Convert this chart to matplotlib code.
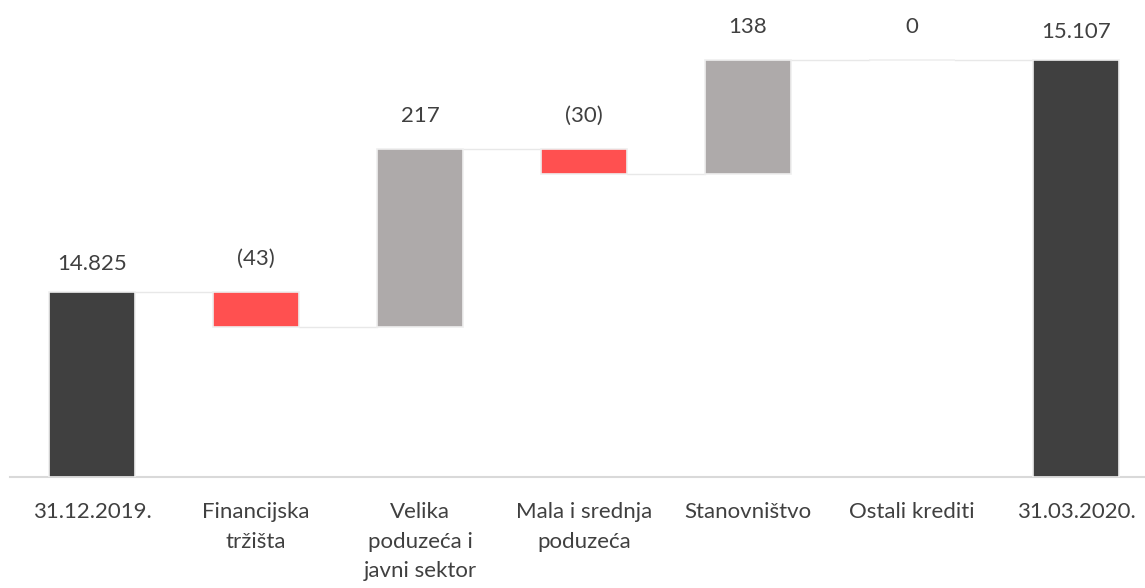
import numpy as np
import matplotlib
matplotlib.use('Agg')
import matplotlib.pyplot as plt

categories = ['31.12.2019.', 'Financijska\ntržišta', 'Velika\npoduzeća i\njavni sektor',
              'Mala i srednja\npoduzeća', 'Stanovništvo', 'Ostali krediti', '31.03.2020.']
values = [14825, -43, 217, -30, 138, 0, 15107]
is_total = [True, False, False, False, False, False, True]
value_labels = ['14.825', '(43)', '217', '(30)', '138', '0', '15.107']

c_total = '#404040'
c_up = '#aeaaaa'
c_down = '#ff5050'
c_text = '#404040'

plt.rcParams['font.family'] = ['Lato', 'DejaVu Sans']

fig = plt.figure(figsize=(11.45, 5.88), dpi=100)
ax = fig.add_axes([10 / 1145, 111 / 588, 1135 / 1145, 477 / 588])

ymin = 14600
bottoms, heights, tops = [], [], []
running = 0
for v, tot in zip(values, is_total):
    if tot:
        bottoms.append(ymin)
        heights.append(v - ymin)
        running = v
    else:
        lo = min(running, running + v)
        bottoms.append(lo)
        heights.append(abs(v))
        running += v
    tops.append(bottoms[-1] + heights[-1])

colors = []
for v, tot in zip(values, is_total):
    if tot:
        colors.append(c_total)
    elif v < 0:
        colors.append(c_down)
    else:
        colors.append(c_up)

x = np.arange(len(values))
w = 0.52
ax.bar(x, heights, bottom=bottoms, width=w, color=colors,
       edgecolor='#efefef', linewidth=1.2, zorder=3)

# connectors
level = 0
for i, (v, tot) in enumerate(zip(values, is_total)):
    level = v if tot else level + v
    if i < len(values) - 1:
        ax.plot([i + w / 2, i + 1 - w / 2], [level, level], color='#e8e8e8',
                linewidth=1.0, zorder=2)

for i, lab in enumerate(value_labels):
    off = 28 if is_total[i] else 33
    ax.annotate(lab, (x[i], tops[i]), xytext=(0, off), textcoords='offset pixels',
                ha='center', va='center', fontsize=16, color=c_text)

ax.set_xlim(-0.5, 6.42)
ax.set_ylim(ymin, 15180)
ax.set_yticks([])
ax.set_xticks(x)
ax.set_xticklabels(categories, fontsize=16, color=c_text, linespacing=1.6)
ax.tick_params(axis='x', length=0, pad=18)
for s in ['top', 'right', 'left']:
    ax.spines[s].set_visible(False)
ax.spines['bottom'].set_color('#d9d9d9')
ax.spines['bottom'].set_linewidth(1.5)

fig.savefig('out.png', dpi=100)
